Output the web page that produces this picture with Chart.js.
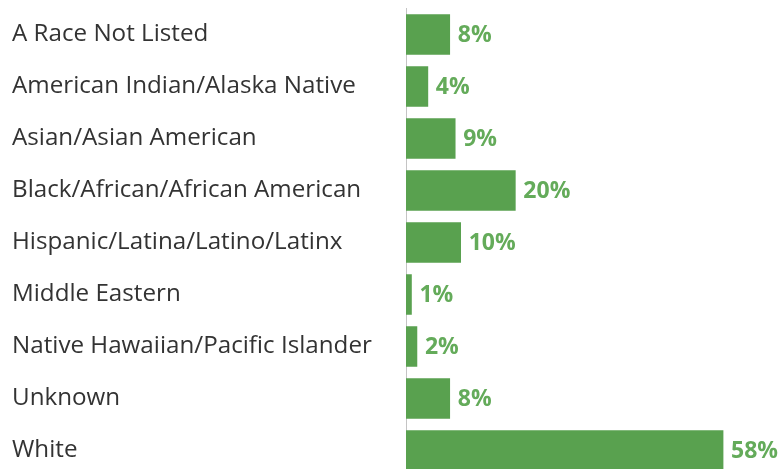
<!DOCTYPE html>
<html>
<head>
<meta charset="utf-8">
<script src="https://cdn.jsdelivr.net/npm/chart.js@4"></script>
<style>
  html, body { margin: 0; padding: 0; background: #fff; overflow: hidden; }
  #wrap { position: absolute; left: 0; top: -6px; width: 783px; height: 497px; }
</style>
</head>
<body>
<div id="wrap"><canvas id="myChart"></canvas></div>
<script>
let categories = [
    'A Race Not Listed',
    'American Indian/Alaska Native',
    'Asian/Asian American',
    'Black/African/African American',
    'Hispanic/Latina/Latino/Latinx',
    'Middle Eastern',
    'Native Hawaiian/Pacific Islander',
    'Unknown',
    'White'
];
let shares = [8, 4, 9, 20, 10, 1, 2, 8, 58];

// draws "8%" etc. just past the end of each bar
const valueLabels = {
    id: 'valueLabels',
    afterDatasetsDraw(chart) {
        const ctx = chart.ctx;
        const meta = chart.getDatasetMeta(0);
        ctx.save();
        ctx.font = 'bold 23px "Open Sans"';
        ctx.fillStyle = '#64ab5a';
        ctx.textBaseline = 'middle';
        ctx.textAlign = 'left';
        meta.data.forEach(function(bar, i) {
            ctx.fillText(shares[i] + '%', bar.x + 8, bar.y + 1);
        });
        ctx.restore();
    }
};

let ctx1 = document.getElementById('myChart').getContext('2d');

let chart1 = new Chart(ctx1, {
    type: 'bar',
    data: {
        labels: categories,
        datasets: [{
            data: shares,
            backgroundColor: '#59a14f',
            barThickness: 40
        }]
    },
    options: {
        indexAxis: 'y',
        responsive: true,
        maintainAspectRatio: false,
        animation: false,
        layout: {
            padding: { left: 12, top: 0, right: 49, bottom: 0 }
        },
        plugins: {
            legend: { display: false },
            tooltip: { enabled: false }
        },
        scales: {
            x: {
                display: false,
                min: 0,
                max: 60
            },
            y: {
                grid: { display: false },
                border: {
                    display: true,
                    color: '#c4c4c4',
                    width: 1,
                    dash: [3, 4]
                },
                ticks: {
                    crossAlign: 'far',
                    color: '#333333',
                    padding: 0,
                    font: { family: 'Open Sans', size: 24.2 }
                },
                afterFit: function(scale) {
                    scale.width = 394;
                }
            }
        }
    },
    plugins: [valueLabels]
});
</script>
</body>
</html>
